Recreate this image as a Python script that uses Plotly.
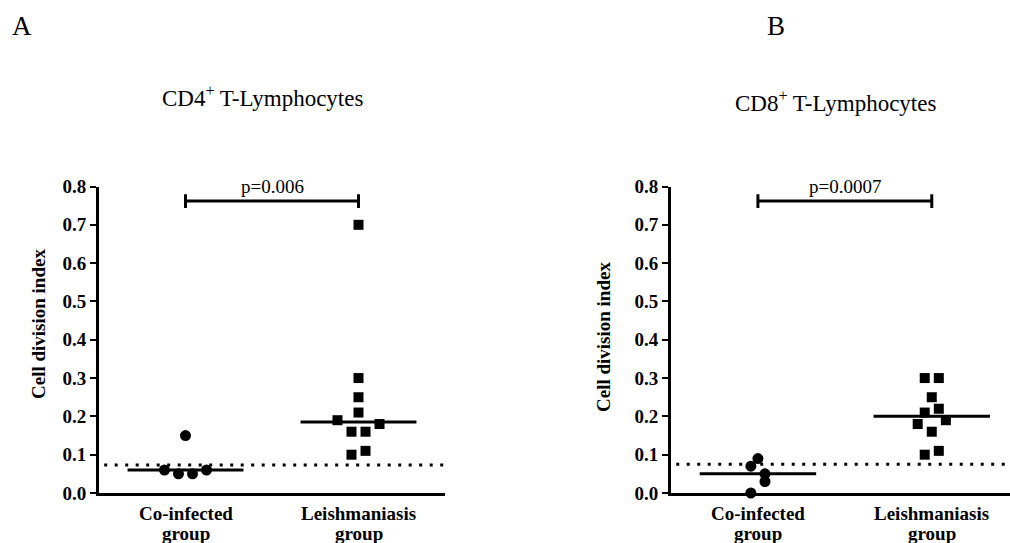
import numpy as np
import plotly.graph_objects as go

# ---------------- data ----------------
cat_line1 = ["Co-infected", "Leishmaniasis"]
cat_line2 = ["group", "group"]
y_ticks = [0.0, 0.1, 0.2, 0.3, 0.4, 0.5, 0.6, 0.7, 0.8]

cd4_coinfected = [0.15, 0.06, 0.05, 0.05, 0.06]
cd4_leish = [0.70, 0.30, 0.25, 0.21, 0.19, 0.18, 0.16, 0.16, 0.11, 0.10]
cd8_coinfected = [0.09, 0.07, 0.05, 0.03, 0.00]
cd8_leish = [0.30, 0.30, 0.25, 0.22, 0.21, 0.19, 0.18, 0.16, 0.11, 0.10]

cd4_cutoff = 0.073
cd8_cutoff = 0.075
cd4_p = "p=0.006"
cd8_p = "p=0.0007"

# column-scatter layout (horizontal slot of each point, in marker steps)
cd4_coinf_slot = [0, -1.5, -0.5, 0.5, 1.5]
cd4_leish_slot = [0, 0, 0, 0, -1.5, 1.5, -0.5, 0.5, 0.5, -0.5]
cd8_coinf_slot = [0, -0.5, 0.5, 0.5, -0.5]
cd8_leish_slot = [-0.5, 0.5, 0, 0.5, -0.5, 1, -1, 0, 0.5, -0.5]

STEP = 0.081
FONT = "Liberation Serif, Times New Roman, Times, serif"
W, H = 1010, 543

fig = go.Figure()

panels = [
    dict(xa="x", ya="y", coinf=cd4_coinfected, leish=cd4_leish,
         cs=cd4_coinf_slot, ls=cd4_leish_slot, cutoff=cd4_cutoff, p=cd4_p,
         xrange=[0.5, 2.5]),
    dict(xa="x2", ya="y2", coinf=cd8_coinfected, leish=cd8_leish,
         cs=cd8_coinf_slot, ls=cd8_leish_slot, cutoff=cd8_cutoff, p=cd8_p,
         xrange=[0.5, 2.45]),
]


def px(x):
    return x / W


def py(y):
    return 1 - y / H


def txt(**kw):
    d = dict(showarrow=False, xanchor="center", yanchor="middle")
    d.update(kw)
    return d


shapes = []
annotations = []
for pn in panels:
    xa, ya = pn["xa"], pn["ya"]
    fig.add_trace(go.Scatter(
        x=[1 + s * STEP for s in pn["cs"]], y=pn["coinf"], mode="markers",
        marker=dict(symbol="circle", size=11, color="black"),
        xaxis=xa, yaxis=ya, cliponaxis=False, showlegend=False))
    fig.add_trace(go.Scatter(
        x=[2 + s * STEP for s in pn["ls"]], y=pn["leish"], mode="markers",
        marker=dict(symbol="square", size=10, color="black"),
        xaxis=xa, yaxis=ya, cliponaxis=False, showlegend=False))
    # cutoff dotted line
    shapes.append(dict(type="line", xref=xa, yref=ya, x0=pn["xrange"][0] + 0.03,
                       x1=pn["xrange"][1], y0=pn["cutoff"], y1=pn["cutoff"],
                       line=dict(color="black", width=3, dash="3px,7.5px"),
                       layer="below"))
    # medians
    for c, vals in ((1, pn["coinf"]), (2, pn["leish"])):
        m = float(np.median(vals))
        shapes.append(dict(type="line", xref=xa, yref=ya, x0=c - 0.335, x1=c + 0.335,
                           y0=m, y1=m, line=dict(color="black", width=3)))
    # significance bracket
    yb = 0.762
    shapes.append(dict(type="line", xref=xa, yref=ya, x0=1, x1=2, y0=yb, y1=yb,
                       line=dict(color="black", width=3)))
    for c in (1, 2):
        shapes.append(dict(type="line", xref=xa, yref=ya, x0=c, x1=c,
                           y0=yb - 0.018, y1=yb + 0.018,
                           line=dict(color="black", width=3)))
    annotations.append(txt(xref=xa, yref=ya, x=1.5, y=0.8, text=pn["p"],
                           font=dict(family=FONT, size=19, color="black")))
    # category labels (two lines, tight spacing)
    for c in (1, 2):
        annotations.append(txt(xref=xa, yref="paper", x=c, y=py(513),
                               text="<b>" + cat_line1[c - 1] + "</b>",
                               font=dict(family=FONT, size=19, color="black")))
        annotations.append(txt(xref=xa, yref="paper", x=c, y=py(533),
                               text="<b>" + cat_line2[c - 1] + "</b>",
                               font=dict(family=FONT, size=19, color="black")))

annotations += [
    txt(xref="paper", yref="paper", x=px(22), y=py(26), text="A",
        font=dict(family=FONT, size=27, color="black")),
    txt(xref="paper", yref="paper", x=px(776), y=py(26), text="B",
        font=dict(family=FONT, size=27, color="black")),
    txt(xref="paper", yref="paper", x=px(160), y=py(96), xanchor="left",
        text="CD4<sup>+</sup> T-Lymphocytes",
        font=dict(family=FONT, size=23, color="black")),
    txt(xref="paper", yref="paper", x=px(733), y=py(102), xanchor="left",
        text="CD8<sup>+</sup> T-Lymphocytes",
        font=dict(family=FONT, size=23, color="black")),
    txt(xref="paper", yref="paper", x=px(38), y=py(324), textangle=-90,
        text="<b>Cell division index</b>",
        font=dict(family=FONT, size=19, color="black")),
    txt(xref="paper", yref="paper", x=px(603), y=py(337), textangle=-90,
        text="<b>Cell division index</b>",
        font=dict(family=FONT, size=19, color="black")),
]

yaxis_common = dict(range=[0, 0.8], tickvals=y_ticks,
                    ticktext=["<b>" + f"{v:.1f}" + "</b>" for v in y_ticks],
                    showline=True, linewidth=3, linecolor="black",
                    ticks="outside", ticklen=6, tickwidth=2, tickcolor="black",
                    showgrid=False, zeroline=False, automargin=False,
                    tickfont=dict(family=FONT, size=19, color="black"),
                    domain=[py(493), py(186.5)])
xaxis_common = dict(tickvals=[1, 2], showticklabels=False,
                    showline=True, linewidth=3, linecolor="black",
                    ticks="", showgrid=False, zeroline=False, automargin=False)

fig.update_layout(
    template="none",
    width=W, height=H, margin=dict(l=0, r=0, t=0, b=0, autoexpand=False),
    paper_bgcolor="white", plot_bgcolor="white",
    xaxis=dict(**xaxis_common, range=[0.5, 2.5], domain=[px(99), px(445)], anchor="y"),
    yaxis=dict(**yaxis_common, anchor="x"),
    xaxis2=dict(**xaxis_common, range=[0.5, 2.45], domain=[px(671), 1.0], anchor="y2"),
    yaxis2=dict(**yaxis_common, anchor="x2"),
    shapes=shapes, annotations=annotations, showlegend=False,
)

fig.write_html("out.html")
